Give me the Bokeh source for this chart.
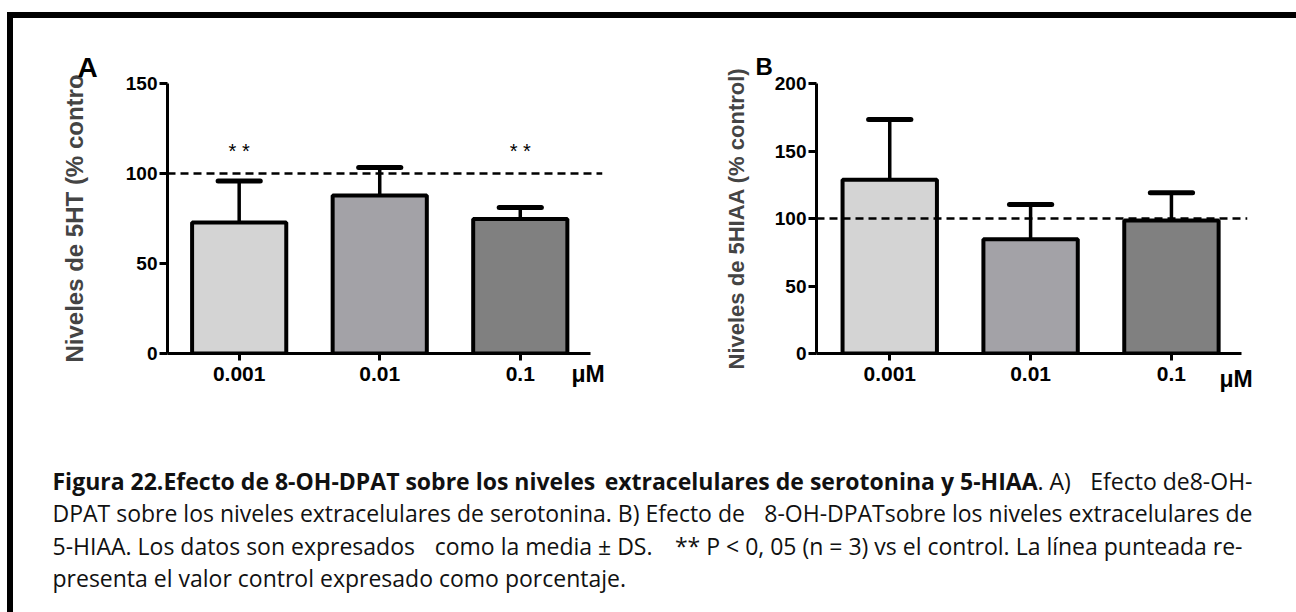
from bokeh.plotting import figure
from bokeh.layouts import row, column, Spacer
from bokeh.models import Range1d, FixedTicker, ColumnDataSource, Span, Title
from bokeh.core.properties import value
from bokeh.embed import file_html
from bokeh.resources import INLINE

# ---------------- data ----------------
categories = ["0.001", "0.01", "0.1"]
unit = "\u03bcM"
control = 100

ht_mean = [72.8, 87.8, 74.7]          # Niveles de 5HT (% control)
ht_sd = [23.1, 15.5, 6.4]
ht_sig = ["* *", "", "* *"]
ht_yticks = [0, 50, 100, 150]

hiaa_mean = [128.7, 84.6, 98.5]       # Niveles de 5HIAA (% control)
hiaa_sd = [44.6, 25.8, 20.6]
hiaa_sig = ["", "", ""]
hiaa_yticks = [0, 50, 100, 150, 200]

bar_colors = ["#d4d4d4", "#a3a2a7", "#808080"]

caption_lines = [
    "Figura 22.Efecto de 8-OH-DPAT sobre los niveles extracelulares de serotonina y 5-HIAA. A) Efecto de8-OH-",
    "DPAT sobre los niveles extracelulares de serotonina. B) Efecto de 8-OH-DPATsobre los niveles extracelulares de",
    "5-HIAA. Los datos son expresados como la media \u00b1 DS. ** P < 0, 05 (n = 3) vs el control. La l\u00ednea punteada re-",
    "presenta el valor control expresado como porcentaje.",
]

AXFONT = "Liberation Sans"


def panel(means, sds, sig, yticks, ylabel, letter, letter_offset, letter_standoff, letter_size,
          unit_offset, unit_standoff, width, b_left, b_right, x_start, x_end,
          label_standoff, label_size):
    xs = [i + 0.5 for i in range(len(categories))]
    upper = [m + s for m, s in zip(means, sds)]
    src = ColumnDataSource(dict(x=xs, top=means, upper=upper, color=bar_colors, sig=sig,
                                cl=[x - 0.15 for x in xs], cr=[x + 0.15 for x in xs],
                                sy=[112.5] * len(xs)))
    p = figure(width=width, height=382, title=None,
               x_range=Range1d(x_start, x_end), y_range=Range1d(0, yticks[-1]),
               min_border_left=b_left, min_border_right=b_right,
               min_border_top=65, min_border_bottom=47,
               toolbar_location=None, output_backend="svg")
    p.outline_line_color = None
    p.grid.visible = False
    p.background_fill_color = "white"
    p.border_fill_color = "white"

    # error bars (drawn first, bars on top)
    p.segment(x0="x", y0="top", x1="x", y1="upper", source=src, line_color="black", line_width=3.5)
    p.segment(x0="cl", y0="upper", x1="cr", y1="upper", source=src, line_color="black",
              line_width=5, line_cap="round")
    p.vbar(x="x", top="top", bottom=0, width=0.67, source=src, fill_color="color",
           line_color="black", line_width=4)
    p.add_layout(Span(location=control, dimension="width", line_color="black",
                      line_width=2.5, line_dash="8 5"))
    p.text(x="x", y="sy", text="sig", source=src, text_align="center", text_baseline="middle",
           text_font=value(AXFONT), text_font_size="20px", text_color="black")

    # axes
    p.xaxis.ticker = FixedTicker(ticks=xs)
    p.xaxis.major_label_overrides = {x: c for x, c in zip(xs, categories)}
    p.xaxis.bounds = (x_start, len(categories))
    p.xaxis.minor_tick_line_color = None
    p.xaxis.major_tick_in = 0
    p.xaxis.major_tick_out = 7
    p.xaxis.major_label_standoff = 6
    p.xaxis.major_label_text_font_size = "21px"

    p.yaxis.ticker = FixedTicker(ticks=yticks)
    p.yaxis.minor_tick_line_color = None
    p.yaxis.major_tick_in = 0
    p.yaxis.major_tick_out = 8
    p.yaxis.major_label_standoff = 2
    p.yaxis.major_label_text_font_size = "19px"
    p.yaxis.axis_label = ylabel
    p.yaxis.axis_label_text_font_size = label_size
    p.yaxis.axis_label_standoff = label_standoff
    p.yaxis.axis_label_text_font_style = "bold"
    p.yaxis.axis_label_text_font = AXFONT

    for ax in (p.xaxis, p.yaxis):
        ax.axis_line_width = 3
        ax.axis_line_color = "black"
        ax.major_tick_line_width = 3
        ax.major_tick_line_color = "black"
        ax.major_label_text_font = AXFONT
        ax.major_label_text_font_style = "bold"
        ax.major_label_text_color = "black"

    p.add_layout(Title(text=letter, align="left", offset=letter_offset, standoff=letter_standoff,
                       text_font=AXFONT, text_font_style="bold", text_font_size=letter_size,
                       text_color="black"), "above")
    p.add_layout(Title(text=unit, align="left", vertical_align="top", offset=unit_offset,
                       standoff=unit_standoff, text_font=AXFONT, text_font_style="bold",
                       text_font_size="23px", text_color="black"), "below")
    return p


pA = panel(ht_mean, ht_sd, ht_sig, ht_yticks, "Niveles de 5HT (% contro", "A",
           -90, 1, "28px", 404, -45,
           width=635, b_left=154, b_right=46, x_start=-0.01, x_end=3.085,
           label_standoff=35, label_size="24px")
pB = panel(hiaa_mean, hiaa_sd, hiaa_sig, hiaa_yticks, "Niveles de 5HIAA (% control)", "B",
           -61, 8, "24px", 403, -36,
           width=648, b_left=168, b_right=49, x_start=-0.02, x_end=3.04,
           label_standoff=23, label_size="22px")

# ---------------- caption ----------------
pC = figure(width=1283, height=212, x_range=Range1d(0, 1283), y_range=Range1d(212, 0),
            min_border=0, toolbar_location=None, output_backend="svg")
pC.axis.visible = False
pC.grid.visible = False
pC.outline_line_color = None

l1, l2, l3, l4 = caption_lines
b1 = l1.index("extracelulares")
b2 = l1.index(". A)")
b3 = l1.index("Efecto de8")
s2 = l2.index("8-OH-DPATsobre")
s3m = l3.index("como la")
s3a = l3.index("** P")
s3 = l3.index("3) vs")
# (text, x, baseline, align, style)
chunks = [
    (l1[:b1].rstrip(), 39, 80, "left", "bold"),
    (l1[b1:b2], 1024, 80, "right", "bold"),
    (l1[b2:b3].rstrip(), 1024, 80, "left", "normal"),
    (l1[b3:], 1239, 80, "right", "normal"),
    (l2[:s2].rstrip(), 39, 112, "left", "normal"),
    (l2[s2:], 1239, 112, "right", "normal"),
    (l3[:s3m].rstrip(), 39, 145, "left", "normal"),
    (l3[s3m:s3a].rstrip(), 639, 145, "right", "normal"),
    (l3[s3a:s3].rstrip(), 829, 145, "right", "normal"),
    (l3[s3:], 1229, 145, "right", "normal"),
    (l4, 39, 177, "left", "normal"),
]
for txt, x, y, al, st in chunks:
    pC.text(x=[x], y=[y], text=[txt], text_align=al, text_baseline="alphabetic",
            text_font=value("Open Sans"), text_font_style=st, text_font_size="23px",
            text_color="#111111")

# ---------------- layout with frame border ----------------
layout = row(
    Spacer(width=7, height=612),
    column(
        Spacer(width=1289, height=12),
        Spacer(width=1289, height=6, styles={"background-color": "black"}),
        row(
            Spacer(width=6, height=594, styles={"background-color": "black"}),
            column(row(pA, pB), pC),
        ),
    ),
)

open("out.html", "w").write(file_html(layout, INLINE))
